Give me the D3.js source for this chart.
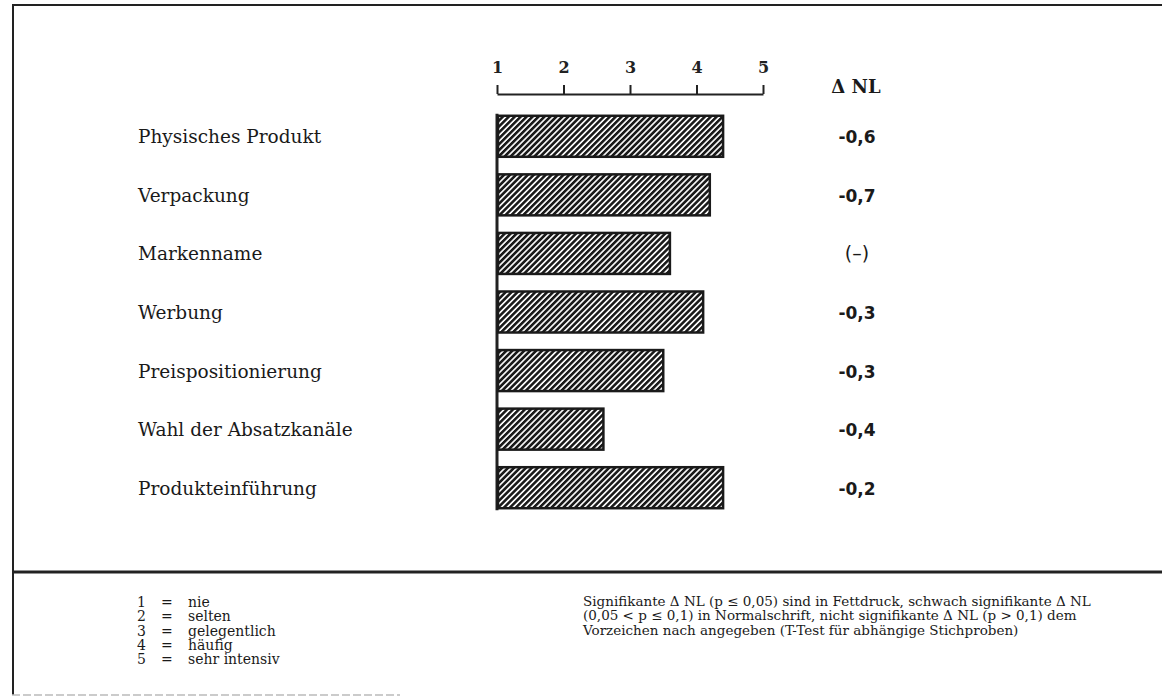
<!DOCTYPE html>
<html>
<head>
<meta charset="utf-8">
<script src="https://cdn.jsdelivr.net/npm/d3@7"></script>
<style>
  body { margin: 0; background: #fff; }
  .serif { font-family: "DejaVu Serif", "Liberation Serif", serif; }
</style>
</head>
<body>
<div id="vis"></div>
<script>
// data
var categories = ["Physisches Produkt", "Verpackung", "Markenname", "Werbung",
  "Preispositionierung", "Wahl der Absatzkanäle", "Produkteinführung"];
var values = [4.4, 4.2, 3.6, 4.1, 3.5, 2.6, 4.4];
var deltaNL = ["-0,6", "-0,7", "(\u2013)", "-0,3", "-0,3", "-0,4", "-0,2"];
var deltaBold = [true, true, false, true, true, true, true];
var tickValues = [1, 2, 3, 4, 5];
var scaleLabels = ["nie", "selten", "gelegentlich", "häufig", "sehr intensiv"];
var noteLines = [
  "Signifikante \u0394 NL (p \u2264 0,05) sind in Fettdruck, schwach signifikante \u0394 NL",
  "(0,05 < p \u2264 0,1) in Normalschrift, nicht signifikante \u0394 NL (p > 0,1) dem",
  "Vorzeichen nach angegeben (T-Test für abhängige Stichproben)"
];

var width = 1162, height = 699;

var svg = d3.select("#vis").append("svg")
    .attr("width", width)
    .attr("height", height);

// hatch pattern for the bars
var defs = svg.append("defs");
defs.append("pattern")
    .attr("id", "hatch")
    .attr("patternUnits", "userSpaceOnUse")
    .attr("width", 4.2)
    .attr("height", 4.2)
    .attr("patternTransform", "rotate(45)")
  .append("rect")
    .attr("x", 0).attr("y", 0)
    .attr("width", 2.6).attr("height", 4.2)
    .attr("fill", "#1a1a1a");

// frame
var frame = svg.append("g").attr("stroke", "#222").attr("fill", "none");
frame.append("line").attr("x1", 12).attr("y1", 5).attr("x2", width).attr("y2", 5).attr("stroke-width", 2);
frame.append("line").attr("x1", 13).attr("y1", 5).attr("x2", 13).attr("y2", 695).attr("stroke-width", 2);
frame.append("line").attr("x1", 12).attr("y1", 572).attr("x2", width).attr("y2", 572).attr("stroke-width", 3);
frame.append("line").attr("x1", 12).attr("y1", 695).attr("x2", 400).attr("y2", 695)
    .attr("stroke-width", 1.5).attr("stroke", "#bbb").attr("stroke-dasharray", "8,3");

var x = d3.scaleLinear().domain([1, 5]).range([497, 763]);
var y = d3.scaleBand().domain(categories).range([107, 517]).paddingInner(0.3).paddingOuter(0.15);

// top axis
var axis = svg.append("g")
    .attr("transform", "translate(0,94)")
    .call(d3.axisTop(x).tickValues(tickValues).tickSize(9).tickSizeOuter(0).tickPadding(12).tickFormat(d3.format("d")));
axis.select(".domain").attr("stroke", "#222").attr("stroke-width", 2);
axis.selectAll(".tick line").attr("stroke", "#222").attr("stroke-width", 2);
axis.selectAll(".tick text")
    .attr("class", "serif")
    .attr("font-size", 16)
    .attr("font-weight", "bold")
    .attr("fill", "#222")
    .attr("text-anchor", "middle");

// vertical baseline
svg.append("line")
    .attr("x1", x(1)).attr("x2", x(1))
    .attr("y1", y(categories[0]) - 2)
    .attr("y2", y(categories[categories.length - 1]) + y.bandwidth() + 2)
    .attr("stroke", "#222").attr("stroke-width", 3);

// bars
svg.selectAll("rect.bar")
    .data(values)
  .enter().append("rect")
    .attr("class", "bar")
    .attr("x", x(1) + 1)
    .attr("y", function(d, i) { return y(categories[i]); })
    .attr("width", function(d) { return x(d) - x(1) - 1; })
    .attr("height", y.bandwidth())
    .attr("fill", "url(#hatch)")
    .attr("stroke", "#1a1a1a")
    .attr("stroke-width", 2.5);

// category labels
svg.selectAll("text.cat")
    .data(categories)
  .enter().append("text")
    .attr("class", "serif")
    .attr("x", 138)
    .attr("y", function(d) { return y(d) + y.bandwidth() / 2 + 7; })
    .attr("font-size", 18.5)
    .attr("fill", "#1a1a1a")
    .text(function(d) { return d; });

// delta NL column
svg.append("text")
    .attr("class", "serif")
    .attr("x", 856).attr("y", 93)
    .attr("text-anchor", "middle")
    .attr("font-size", 18)
    .attr("font-weight", "bold")
    .attr("fill", "#1a1a1a")
    .text("\u0394 NL");

svg.selectAll("text.dnl")
    .data(deltaNL)
  .enter().append("text")
    .attr("x", 857)
    .attr("y", function(d, i) { return y(categories[i]) + y.bandwidth() / 2 + 7; })
    .attr("text-anchor", "middle")
    .attr("font-family", "'DejaVu Sans', sans-serif")
    .attr("font-size", function(d, i) { return deltaBold[i] ? 17 : 19; })
    .attr("font-weight", function(d, i) { return deltaBold[i] ? "bold" : "normal"; })
    .attr("fill", "#1a1a1a")
    .text(function(d) { return d; });

// footer: scale legend
var leg = svg.append("g").attr("class", "serif").attr("font-size", 14).attr("fill", "#1a1a1a");
tickValues.forEach(function(v, i) {
  var yy = 607 + i * 14.3;
  leg.append("text").attr("x", 137).attr("y", yy).text(v);
  leg.append("text").attr("x", 161).attr("y", yy).text("=");
  leg.append("text").attr("x", 188).attr("y", yy).text(scaleLabels[i]);
});

// footer: note
var note = svg.append("g").attr("class", "serif").attr("font-size", 13.5).attr("fill", "#1a1a1a");
noteLines.forEach(function(t, i) {
  note.append("text").attr("x", 583).attr("y", 606 + i * 14.3).text(t);
});
</script>
</body>
</html>
